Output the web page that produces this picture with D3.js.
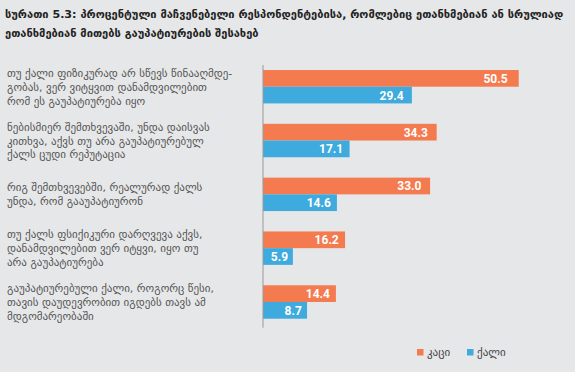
<!DOCTYPE html>
<html>
<head>
<meta charset="utf-8">
<script src="https://d3js.org/d3.v7.min.js"></script>
<style>
  body { margin: 0; background: #e6e7e8; }
  svg { display: block; }
  .title { font: bold 11.1px "DejaVu Sans", sans-serif; fill: #222; }
  .cat { font: 11px "DejaVu Sans", sans-serif; fill: #555; }
  .val { font: bold 12px Roboto, sans-serif; fill: #fff; }
  .legend text { font: 11px "DejaVu Sans", sans-serif; fill: #444; }
</style>
</head>
<body>
<div id="chart"></div>
<script>
// data
const titleLines = [
  "სურათი 5.3: პროცენტული მაჩვენებელი რესპონდენტებისა, რომლებიც ეთანხმებიან ან სრულიად",
  "ეთანხმებიან მითებს გაუპატიურების შესახებ"
];
const categories = [
  ["თუ ქალი ფიზიკურად არ სწევს წინააღმდე-", "გობას, ვერ ვიტყვით დანამდვილებით", "რომ ეს გაუპატიურება იყო"],
  ["ნებისმიერ შემთხვევაში, უნდა დაისვას", "კითხვა, აქვს თუ არა გაუპატიურებულ", "ქალს ცუდი რეპუტაცია"],
  ["რიგ შემთხვევებში, რეალურად ქალს", "უნდა, რომ გააუპატიურონ"],
  ["თუ ქალს ფსიქიკური დარღვევა აქვს,", "დანამდვილებით ვერ იტყვი, იყო თუ", "არა გაუპატიურება"],
  ["გაუპატიურებული ქალი, როგორც წესი,", "თავის დაუდევრობით იგდებს თავს ამ", "მდგომარეობაში"]
];
const seriesNames = ["კაცი", "ქალი"];
const men = [50.5, 34.3, 33.0, 16.2, 14.4];
const women = [29.4, 17.1, 14.6, 5.9, 8.7];
const colors = ["#f47b4f", "#3eaadd"];

const width = 575, height = 372;
const svg = d3.select("#chart").append("svg")
  .attr("width", width).attr("height", height);

// title
svg.append("g").selectAll("text")
  .data(titleLines).enter().append("text")
  .attr("class", "title")
  .attr("x", 5)
  .attr("y", (d, i) => 18 + i * 19)
  .text(d => d);

const idx = d3.range(categories.length);
const y0 = d3.scaleBand().domain(idx).range([70, 318.7]).paddingInner(0.379);
const y1 = d3.scaleBand().domain(seriesNames).range([0, y0.bandwidth()]);
const x = d3.scaleLinear().domain([0, 60]).range([263, 566.8]);

const rows = idx.map(i => [men[i], women[i]]);

const groups = svg.append("g").selectAll("g")
  .data(rows).enter().append("g")
  .attr("transform", (d, i) => `translate(0,${y0(i)})`);

groups.selectAll("rect")
  .data(d => d.map((v, j) => ({ v, s: seriesNames[j], c: colors[j] })))
  .enter().append("rect")
  .attr("x", x(0))
  .attr("y", d => y1(d.s))
  .attr("width", d => x(d.v) - x(0))
  .attr("height", y1.bandwidth())
  .attr("fill", d => d.c);

groups.selectAll("text.val")
  .data(d => d.map((v, j) => ({ v, s: seriesNames[j] })))
  .enter().append("text")
  .attr("class", "val")
  .attr("x", d => x(d.v) - (4 + d.v * 0.14))
  .attr("y", d => y1(d.s) + y1.bandwidth() / 2 + 4.5)
  .attr("text-anchor", "end")
  .text(d => d.v.toFixed(1));

// axis line
svg.append("line")
  .attr("x1", x(0)).attr("x2", x(0))
  .attr("y1", y0.range()[0] - 5).attr("y2", y0.range()[1] + 9)
  .attr("stroke", "#999").attr("stroke-width", 1);

// category labels
const lineH = 13.8;
svg.append("g").selectAll("text")
  .data(categories).enter().append("text")
  .attr("class", "cat")
  .each(function (lines, i) {
    const cy = y0(i) + y0.bandwidth() / 2;
    const top = cy - (lines.length - 1) * lineH / 2 + 4;
    d3.select(this).selectAll("tspan")
      .data(lines).enter().append("tspan")
      .attr("x", 7)
      .attr("y", (d, k) => top + k * lineH)
      .text(d => d);
  });

// legend
const legend = svg.append("g").attr("class", "legend")
  .attr("transform", "translate(417,349)");
const lx = [0, 50];
seriesNames.forEach((n, i) => {
  const g = legend.append("g").attr("transform", `translate(${lx[i]},0)`);
  g.append("rect").attr("width", 6.5).attr("height", 6.5).attr("fill", colors[i]);
  g.append("text").attr("x", 10).attr("y", 7).text(n);
});
</script>
</body>
</html>
